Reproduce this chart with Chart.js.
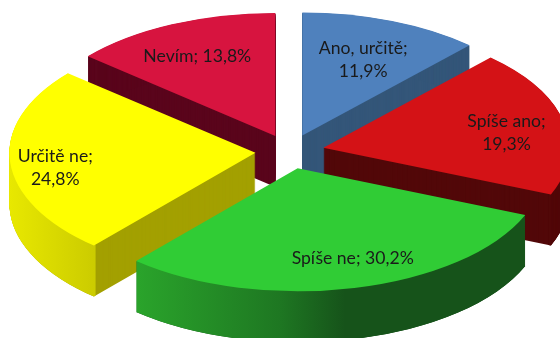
<!DOCTYPE html>
<html>
<head>
<meta charset="utf-8">
<style>
  html, body { margin: 0; padding: 0; background: #fff; }
  canvas { display: block; }
</style>
<script src="https://cdn.jsdelivr.net/npm/chart.js@4"></script>
</head>
<body>
<canvas id="kolac" width="560" height="338"></canvas>
<script>
const kategorie = ['Ano, určitě', 'Spíše ano', 'Spíše ne', 'Určitě ne', 'Nevím'];
const hodnoty = [11.9, 19.3, 30.2, 24.8, 13.8];
const barvy = ['#4F81BD', '#D41216', '#30CC35', '#FFFF00', '#D7143F'];
const barvyRezu = ['#345679', '#520809', '#16531A', '#A3A000', '#5A051C'];
// outer wall gradient: [global x, colour]
const barvyPlaste = [
  [[0, '#345679']],
  [[0, '#520809']],
  [[136, '#2AA42B'], [280, '#1E7722'], [345, '#16531A'], [526, '#16531A']],
  [[9, '#E8E800'], [94, '#CCCC00']],
  [[0, '#5A051C']]
];
const poradi = [4, 0, 3, 1, 2];   // back to front
const zalomit = [true, true, false, true, false];
const posunPopisku = [[7, -7], [39, 1], [21, 18], [-53, 9], [-16, -13]];

const POLOMER = 246;
const VYSUNUTI = 34.4;
const ZPLOSTENI = 0.5;
const HLOUBKA = 51;

function vyplnPlaste(ctx, i, dx) {
  const stopy = barvyPlaste[i];
  if (stopy.length === 1) return stopy[0][1];
  const x0 = stopy[0][0], x1 = stopy[stopy.length - 1][0];
  const g = ctx.createLinearGradient(x0 - dx, 0, x1 - dx, 0);
  stopy.forEach(s => g.addColorStop((s[0] - x0) / (x1 - x0), s[1]));
  return g;
}

const kolac3d = {
  id: 'kolac3d',
  beforeDatasetsDraw(chart) {
    const ctx = chart.ctx;
    const oblouky = chart.getDatasetMeta(0).data;

    poradi.forEach(i => {
      const arc = oblouky[i];
      const uhel = (arc.startAngle + arc.endAngle) / 2;
      const dx = Math.cos(uhel) * VYSUNUTI;
      const dy = Math.sin(uhel) * VYSUNUTI;
      const vrstva = (posun, nakresli) => {
        ctx.save();
        ctx.translate(arc.x, arc.y + posun);
        ctx.scale(1, ZPLOSTENI);
        ctx.translate(-arc.x + dx, -arc.y + dy);
        nakresli();
        ctx.restore();
      };
      const barva = arc.options.backgroundColor;

      // cut walls
      arc.options.backgroundColor = barvyRezu[i];
      for (let h = HLOUBKA; h > 0; h--) vrstva(h, () => arc.draw(ctx));

      // outer wall
      const vnitrni = arc.innerRadius;
      arc.innerRadius = arc.outerRadius - 3;
      arc.options.backgroundColor = vyplnPlaste(ctx, i, dx);
      for (let h = HLOUBKA; h > 0; h -= 0.5) vrstva(h, () => arc.draw(ctx));
      arc.innerRadius = vnitrni;

      // top
      arc.options.backgroundColor = barva;
      vrstva(0, () => arc.draw(ctx));
    });

    // labels
    ctx.save();
    ctx.font = '17.6px Lato';
    ctx.fillStyle = '#1a1a1a';
    ctx.textAlign = 'center';
    ctx.textBaseline = 'middle';
    oblouky.forEach((arc, i) => {
      const uhel = (arc.startAngle + arc.endAngle) / 2;
      const r = VYSUNUTI + POLOMER * 0.6;
      const x = arc.x + Math.cos(uhel) * r + posunPopisku[i][0];
      const y = arc.y + Math.sin(uhel) * r * ZPLOSTENI + posunPopisku[i][1];
      const cislo = hodnoty[i].toFixed(1).replace('.', ',') + '%';
      if (zalomit[i]) {
        ctx.fillText(kategorie[i] + ';', x, y - 11.5);
        ctx.fillText(cislo, x, y + 11.5);
      } else {
        ctx.fillText(kategorie[i] + '; ' + cislo, x, y);
      }
    });
    ctx.restore();
    return false;
  }
};

new Chart(document.getElementById('kolac').getContext('2d'), {
  type: 'pie',
  data: {
    labels: kategorie,
    datasets: [{
      data: hodnoty,
      backgroundColor: barvy,
      borderWidth: 0
    }]
  },
  options: {
    responsive: false,
    animation: false,
    radius: POLOMER,
    layout: { padding: { left: 19.5, bottom: 35 } },
    plugins: {
      legend: { display: false },
      title: { display: false },
      tooltip: { enabled: false }
    }
  },
  plugins: [kolac3d]
});
</script>
</body>
</html>
